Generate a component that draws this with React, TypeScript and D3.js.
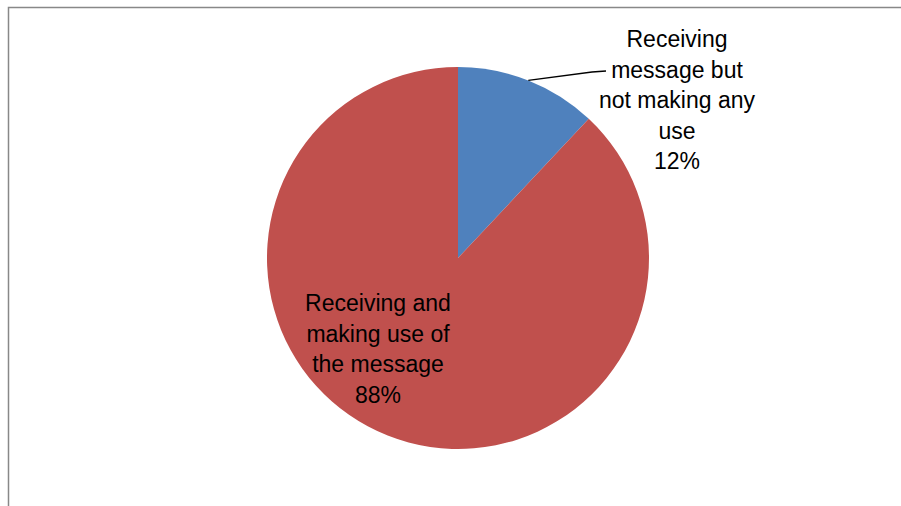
import React from "react";
import * as d3 from "d3";

const categories = ["Receiving message but not making any use", "Receiving and making use of the message"];
const values = [12, 88];
const labelLines = [
  ["Receiving", "message but", "not making any", "use", "12%"],
  ["Receiving and", "making use of", "the message", "88%"],
];
const colors = ["#4F81BD", "#C0504D"];

export default function App() {
  const W = 901, H = 506;
  const cx = 458, cy = 258, r = 191;
  const pie = d3.pie<number>().sort(null).value((d) => d)(values);
  const arc = d3.arc<d3.PieArcDatum<number>>().innerRadius(0).outerRadius(r);
  const labelPos = [
    { x: 677, y: 47 },
    { x: 378, y: 311 },
  ];
  const lh = 30.5;
  const a0 = pie[0];
  const mid = (a0.startAngle + a0.endAngle) / 2;
  const px = cx + r * Math.sin(mid);
  const py = cy - r * Math.cos(mid);
  return (
    <svg width={W} height={H} style={{ position: "absolute", left: 0, top: 0 }}>
      <rect x={0} y={0} width={W} height={H} fill="#fff" />
      <path d={`M8.5,${H} L8.5,7.5 L${W},7.5`} fill="none" stroke="#888" strokeWidth={1.5} />
      <g transform={`translate(${cx},${cy})`}>
        {pie.map((d, i) => (
          <path key={categories[i]} d={arc(d) || ""} fill={colors[i]} />
        ))}
      </g>
      <polyline points={`${px},${py} 592,72 606,71`} fill="none" stroke="#000" strokeWidth={1.3} />
      {labelLines.map((lines, i) => (
        <text
          key={i}
          textAnchor="middle"
          fontFamily="Liberation Sans, Arial, sans-serif"
          fontSize={23}
          fill="#000"
        >
          {lines.map((l, j) => (
            <tspan key={j} x={labelPos[i].x} y={labelPos[i].y + j * lh}>
              {l}
            </tspan>
          ))}
        </text>
      ))}
    </svg>
  );
}
